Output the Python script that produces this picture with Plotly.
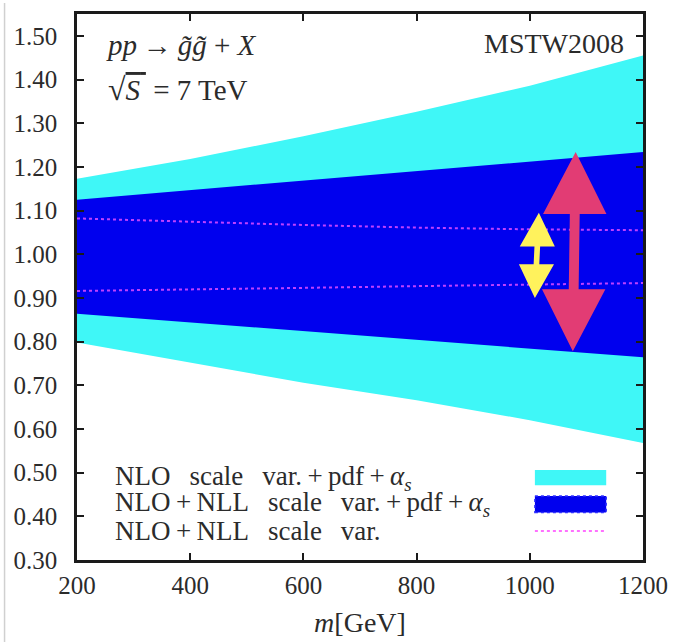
import plotly.graph_objects as go

# Gluino-pair K-factor bands versus mass (normalised to central value)
mass = [200, 400, 600, 800, 1000, 1200]
nlo_hi = [1.173, 1.218, 1.270, 1.326, 1.386, 1.455]
nlo_lo = [0.798, 0.752, 0.706, 0.666, 0.620, 0.568]
nll_hi = [1.125, 1.147, 1.169, 1.191, 1.212, 1.234]
nll_lo = [0.864, 0.844, 0.824, 0.804, 0.784, 0.764]
scale_hi = [1.082, 1.074, 1.067, 1.061, 1.057, 1.055]
scale_lo = [0.916, 0.919, 0.923, 0.927, 0.931, 0.934]

x_ticks = [200, 400, 600, 800, 1000, 1200]
y_ticks = [0.30, 0.40, 0.50, 0.60, 0.70, 0.80, 0.90, 1.00, 1.10, 1.20, 1.30, 1.40, 1.50]

GAP = "\u2002\u2009"
legend_labels = [
    f"NLO{GAP}scale{GAP}var.\u2009+\u2009pdf\u2009+\u2009<i>α<sub>s</sub></i>",
    f"NLO\u2009+\u2009NLL{GAP}scale{GAP}var.\u2009+\u2009pdf\u2009+\u2009<i>α<sub>s</sub></i>",
    f"NLO\u2009+\u2009NLL{GAP}scale{GAP}var.",
]

# Double-headed arrows: (x at top tip, y top, x at bottom tip, y bottom,
#                        head length, head half-width, shaft half-width, colour)
arrows = [
    (1081, 1.234, 1076, 0.778, 0.142, 56, 8.7, "#e23c74"),
    (1016, 1.095, 1009, 0.900, 0.077, 31, 5.0, "#fff25c"),
]

CYAN = "#3ff7f7"
BLUE = "#0000ee"
MAGENTA = "#c040ff"
FONT = "Liberation Serif"
INK = "#2b2b2b"

fig = go.Figure()

def band(lo, hi, color):
    fig.add_trace(go.Scatter(x=mass, y=lo, mode="lines", line=dict(width=0, color=color),
                             showlegend=False, hoverinfo="skip"))
    fig.add_trace(go.Scatter(x=mass, y=hi, mode="lines", line=dict(width=0, color=color),
                             fill="tonexty", fillcolor=color, showlegend=False, hoverinfo="skip"))

band(nlo_lo, nlo_hi, CYAN)
band(nll_lo, nll_hi, BLUE)
for ys in (scale_hi, scale_lo):
    fig.add_trace(go.Scatter(x=mass, y=ys, mode="lines",
                             line=dict(color=MAGENTA, width=2, dash="dot"),
                             showlegend=False, hoverinfo="skip"))


def arrow_path(xt, yt, xb, yb, hl, hw, sw):
    def xat(y):
        return xb + (xt - xb) * (y - yb) / (yt - yb)
    pts = [
        (xat(yt), yt),
        (xat(yt - hl) + hw, yt - hl),
        (xat(yt - hl) + sw, yt - hl),
        (xat(yb + hl) + sw, yb + hl),
        (xat(yb + hl) + hw, yb + hl),
        (xat(yb), yb),
        (xat(yb + hl) - hw, yb + hl),
        (xat(yb + hl) - sw, yb + hl),
        (xat(yt - hl) - sw, yt - hl),
        (xat(yt - hl) - hw, yt - hl),
    ]
    return "M " + " L ".join(f"{px:.3f},{py:.4f}" for px, py in pts) + " Z"


shapes = []
for xt, yt, xb, yb, hl, hw, sw, col in arrows:
    shapes.append(dict(type="path", xref="x", yref="y", path=arrow_path(xt, yt, xb, yb, hl, hw, sw),
                       fillcolor=col, line=dict(width=0), layer="above"))

# legend swatches drawn to the right of their labels
row_y = [0.151, 0.102, 0.053]
sw_x0, sw_x1 = 0.809, 0.935
shapes.append(dict(type="rect", xref="paper", yref="paper", x0=sw_x0, x1=sw_x1,
                   y0=row_y[0] - 0.014, y1=row_y[0] + 0.014, fillcolor=CYAN, line=dict(width=0)))
shapes.append(dict(type="rect", xref="paper", yref="paper", x0=sw_x0, x1=sw_x1,
                   y0=row_y[1] - 0.015, y1=row_y[1] + 0.015, fillcolor=BLUE,
                   line=dict(width=1.5, color="#3030ff", dash="dot")))
shapes.append(dict(type="line", xref="paper", yref="paper", x0=sw_x0, x1=sw_x1 - 0.004,
                   y0=row_y[2], y1=row_y[2], line=dict(width=2, color="#ff70ff", dash="dot")))
# faint page border at the left
shapes.append(dict(type="line", xref="paper", yref="paper", x0=-0.128, x1=-0.128,
                   y0=-0.15, y1=1.02, line=dict(width=1.5, color="#d0d0d0")))

annotations = []
for lbl, yy in zip(legend_labels, row_y):
    annotations.append(dict(text=lbl, xref="paper", yref="paper", x=0.063, y=yy,
                            xanchor="left", yanchor="middle", showarrow=False,
                            font=dict(family=FONT, size=27, color=INK)))
annotations += [
    dict(text="<i>pp</i>\u2009→\u2009<i>g̃g̃</i> + <i>X</i>", xref="paper", yref="paper",
         x=0.048, y=0.944, xanchor="left", yanchor="middle", showarrow=False,
         font=dict(family=FONT, size=29, color=INK)),
    dict(text="<span style='font-size:32px'>√</span><span style='text-decoration:overline'><i>S</i>\u2009</span>"
              " = 7 TeV", xref="paper", yref="paper",
         x=0.052, y=0.862, xanchor="left", yanchor="middle", showarrow=False,
         font=dict(family=FONT, size=29, color=INK)),
    dict(text="MSTW2008", xref="paper", yref="paper", x=0.970, y=0.946,
         xanchor="right", yanchor="middle", showarrow=False, font=dict(family=FONT, size=28, color=INK)),
]

axis_common = dict(showgrid=False, zeroline=False, showline=True, linecolor="#1a1a1a", linewidth=2.5,
                   mirror="allticks", ticks="inside", ticklen=7, tickwidth=2, tickcolor="#1a1a1a",
                   tickfont=dict(family=FONT, size=25, color=INK))

fig.update_layout(
    width=679, height=644,
    margin=dict(l=77, r=30, t=11, b=83),
    paper_bgcolor="white", plot_bgcolor="white",
    showlegend=False,
    shapes=shapes, annotations=annotations,
    xaxis=dict(range=[200, 1200], tickvals=x_ticks, ticktext=[str(v) for v in x_ticks],
               ticklabelstandoff=1,
               title=dict(text="<i>m</i>[GeV]", font=dict(family=FONT, size=28, color=INK), standoff=15),
               **axis_common),
    yaxis=dict(range=[0.30, 1.55], tickvals=y_ticks, ticktext=[f"{v:.2f}" for v in y_ticks],
               ticklabelstandoff=12, **axis_common),
)

fig.write_html("out.html")
